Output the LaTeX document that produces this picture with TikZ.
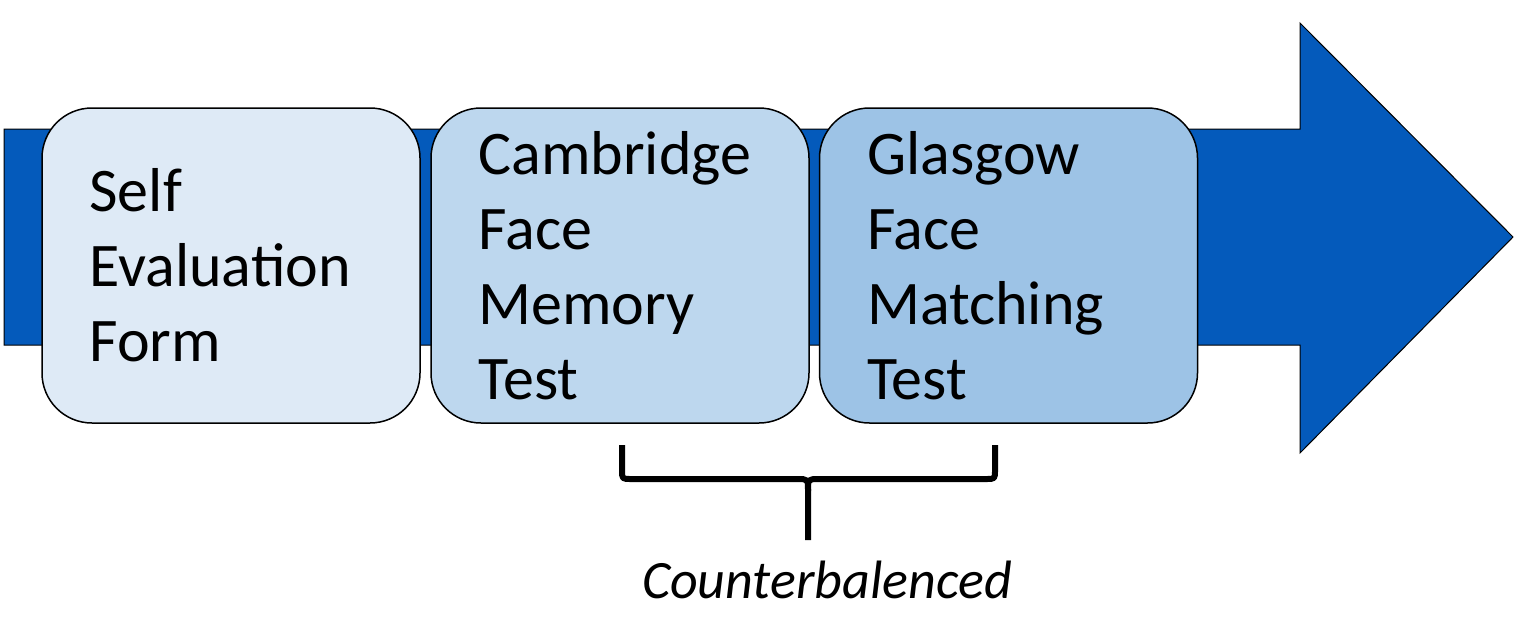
\documentclass[tikz,border=0pt]{standalone}
\usepackage{fontspec}
\setmainfont{Carlito}
\usepackage{xcolor}
\definecolor{flowblue}{RGB}{4,90,187}
\definecolor{stepa}{RGB}{222,234,246}
\definecolor{stepb}{RGB}{189,215,238}
\definecolor{stepc}{RGB}{157,195,230}
\usepackage{tikz}
\usetikzlibrary{positioning}
\tikzset{
  stage/.style  ={rectangle,rounded corners=50pt,draw=black,line width=1.5pt,
                  align=left,text width=283pt,inner xsep=47.5pt,inner ysep=0pt,
                  minimum height=315pt,font=\fontsize{62}{75}\selectfont},
  bigarrow/.style={fill=flowblue,draw=black,line width=1pt,line join=miter},
  bracket/.style={line width=6pt,line join=round,line cap=butt},
}

\begin{document}
\begin{tikzpicture}[x=1pt,y=-1pt]
  \useasboundingbox (0,0) rectangle (1515,619);
  % ---- process arrow ------------------------------------------------
  \draw[bigarrow] (4,129) -- (1300,129) -- (1300,23) -- (1513,237)
    -- (1300,453) -- (1300,345) -- (4,345) -- cycle;

  % ---- stages -------------------------------------------------------
  \node[stage,fill=stepa] (self) at (231,265.5) {Self\\Evaluation\\Form};
  \node[stage,fill=stepb] (cfmt) at (620,265.5) {Cambridge\\Face\\Memory\\Test};
  \node[stage,fill=stepc] (gfmt) at (1008.5,265.5) {Glasgow\\Face\\Matching\\Test};

  % ---- counterbalancing brace ---------------------------------------
  \coordinate (bl) at (622,445);
  \coordinate (br) at (995,445);
  \coordinate (bm) at (808,540);
  \draw[bracket] (bl) -- (622,470) .. controls (622,479) .. (631,479)
    -- (797,479) .. controls (808,479) .. (808,491) -- (bm);
  \draw[bracket] (br) -- (995,470) .. controls (995,479) .. (986,479)
    -- (819,479) .. controls (808,479) .. (808,491);
  \node[font=\fontsize{54}{65}\selectfont\itshape,anchor=base,inner sep=0pt]
    (cb) at (827,598) {Counterbalenced};
\end{tikzpicture}
\end{document}
